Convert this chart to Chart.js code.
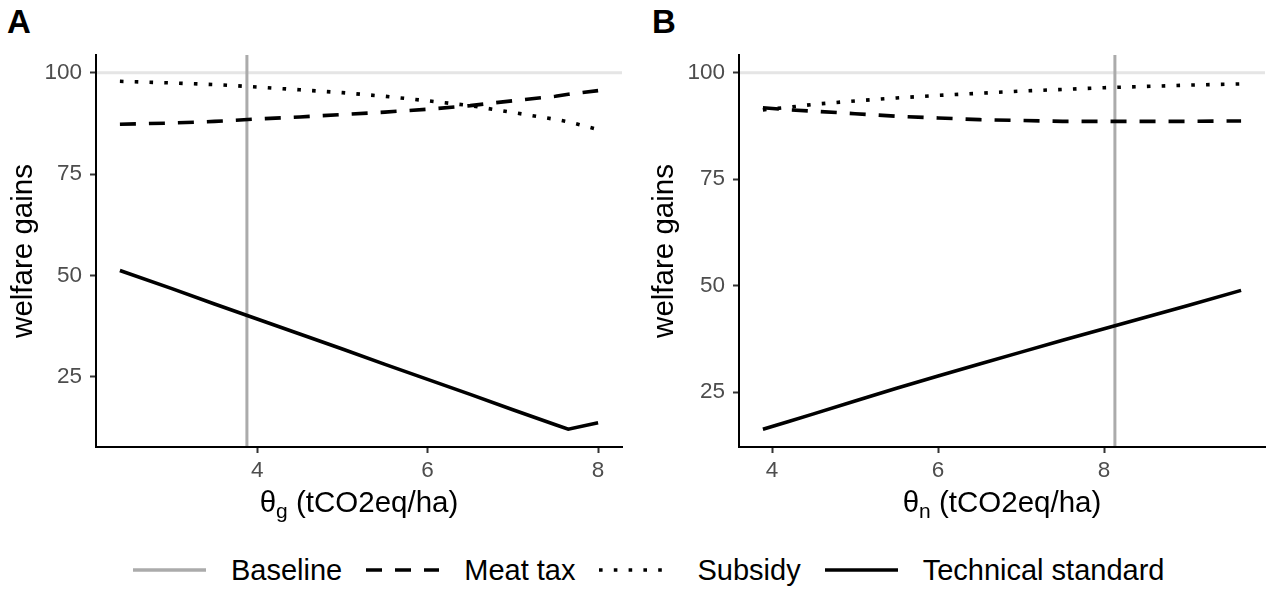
<!DOCTYPE html>
<html>
<head>
<meta charset="utf-8">
<script src="https://cdn.jsdelivr.net/npm/chart.js@4.4.1/dist/chart.umd.min.js"></script>
<style>
  html, body { margin: 0; padding: 0; background: #fff; }
  body { width: 1272px; height: 590px; position: relative; overflow: hidden;
         font-family: "Liberation Sans", Arial, sans-serif; }
  .panel { position: absolute; top: 0; }
  .tag { position: absolute; top: 5px; font-size: 33px; font-weight: bold; line-height: 1; color: #000; }
  #legend { position: absolute; left: 133px; top: 552px; height: 36px; display: flex;
            align-items: center; font-size: 29px; line-height: 1; color: #000; white-space: nowrap; }
  #legend svg { display: block; margin-right: 25px; }
  #legend span { margin-right: 24px; }
</style>
</head>
<body>
<div class="tag" style="left:7px">A</div>
<div class="tag" style="left:652px">B</div>
<canvas id="panelA" class="panel" width="636" height="532" style="left:0"></canvas>
<canvas id="panelB" class="panel" width="636" height="532" style="left:636px"></canvas>
<div id="legend"></div>

<script>
// panel A: theta_g
const xA = [2.39, 3.0, 3.5, 4.0, 4.5, 5.0, 5.5, 6.0, 6.5, 7.0, 7.5, 7.65, 8.0];
const meatTaxA = [87.3, 87.6, 88.0, 88.6, 89.1, 89.7, 90.3, 91.0, 91.9, 93.1, 94.2, 94.7, 95.6];
const subsidyA = [97.9, 97.5, 97.1, 96.5, 95.8, 95.1, 94.2, 93.1, 91.9, 90.2, 88.5, 87.9, 86.0];
const techA = [51.2, 46.7, 42.9, 39.2, 35.5, 31.8, 28.0, 24.3, 20.6, 16.8, 13.1, 12.0, 13.6];
const baselineA = 3.88;

// panel B: theta_n
const xB = [3.89, 4.2, 4.5, 5.0, 5.5, 6.0, 6.5, 7.0, 7.5, 8.0, 8.5, 9.0, 9.65];
const meatTaxB = [91.8, 91.3, 91.0, 90.4, 89.8, 89.4, 89.0, 88.8, 88.6, 88.6, 88.6, 88.6, 88.7];
const subsidyB = [91.3, 91.9, 92.6, 93.4, 94.1, 94.7, 95.2, 95.7, 96.1, 96.5, 96.8, 97.1, 97.4];
const techB = [16.3, 18.1, 19.9, 22.9, 25.9, 28.8, 31.6, 34.4, 37.2, 39.9, 42.6, 45.3, 48.9];
const baselineB = 8.13;

const refLevel = 100;
const xTicksA = [4, 6, 8];
const xTicksB = [4, 6, 8];
const yTicks = [25, 50, 75, 100];
const seriesLabels = ['Baseline', 'Meat tax', 'Subsidy', 'Technical standard'];

const FONT = '"Liberation Sans", Arial, sans-serif';
const LW = 3.6;
const DASH = [16, 13];
const DOT = [LW, 11.2];

// ggplot-like 5% expansion
function expand(values) {
  const lo = Math.min(...values), hi = Math.max(...values);
  const pad = (hi - lo) * 0.05;
  return { min: lo - pad, max: hi + pad };
}

function pts(xs, ys) {
  return xs.map((x, i) => ({ x: x, y: ys[i] }));
}

const refLinesPlugin = {
  id: 'refLines',
  beforeDatasetsDraw(chart, args, o) {
    const { ctx, chartArea: a, scales } = chart;
    ctx.save();
    ctx.lineWidth = 3;
    ctx.strokeStyle = '#E5E5E5';
    const y = scales.y.getPixelForValue(o.level);
    ctx.beginPath();
    ctx.moveTo(a.left + 1, y);
    ctx.lineTo(a.right, y);
    ctx.stroke();
    const x = scales.x.getPixelForValue(o.baseline);
    ctx.strokeStyle = '#ABABAB';
    ctx.beginPath();
    ctx.moveTo(x, a.top);
    ctx.lineTo(x, a.bottom - 1);
    ctx.stroke();
    ctx.restore();
  }
};

// x title with a subscript
const subTitlePlugin = {
  id: 'subTitle',
  afterDraw(chart, args, o) {
    const { ctx, chartArea } = chart;
    const cx = (chartArea.left + chartArea.right) / 2;
    const big = '29.5px ' + FONT, small = '21px ' + FONT;
    ctx.save();
    ctx.fillStyle = '#000';
    ctx.textBaseline = 'alphabetic';
    ctx.textAlign = 'left';
    ctx.font = big;
    const w1 = ctx.measureText(o.symbol).width;
    const w3 = ctx.measureText(o.rest).width;
    ctx.font = small;
    const w2 = ctx.measureText(o.sub).width;
    let x = cx - (w1 + w2 + w3) / 2;
    ctx.font = big; ctx.fillText(o.symbol, x, o.baseline); x += w1;
    ctx.font = small; ctx.fillText(o.sub, x, o.baseline + 6); x += w2;
    ctx.font = big; ctx.fillText(o.rest, x, o.baseline);
    ctx.restore();
  }
};

function makePanel(id, p) {
  const xr = expand(p.xs);
  const yr = expand(p.meat.concat(p.sub, p.tech, [refLevel]));
  return new Chart(document.getElementById(id), {
    type: 'line',
    data: {
      datasets: [
        { label: seriesLabels[1], data: pts(p.xs, p.meat), borderColor: '#000', borderWidth: LW, borderDash: DASH, pointRadius: 0, tension: 0 },
        { label: seriesLabels[2], data: pts(p.xs, p.sub), borderColor: '#000', borderWidth: LW, borderDash: DOT, pointRadius: 0, tension: 0 },
        { label: seriesLabels[3], data: pts(p.xs, p.tech), borderColor: '#000', borderWidth: LW, pointRadius: 0, tension: 0 }
      ]
    },
    options: {
      responsive: false,
      animation: false,
      events: [],
      layout: { padding: { top: 55, right: p.padRight, left: 0, bottom: 0 } },
      plugins: {
        legend: { display: false },
        tooltip: { enabled: false },
        refLines: { level: refLevel, baseline: p.baseline },
        subTitle: { symbol: 'θ', sub: p.subscript, rest: ' (tCO2eq/ha)', baseline: 512 }
      },
      scales: {
        x: {
          type: 'linear',
          min: xr.min,
          max: xr.max,
          afterFit: (s) => { s.height = 85; },
          afterBuildTicks: (s) => { s.ticks = p.xTicks.map((v) => ({ value: v })); },
          grid: { drawOnChartArea: false, drawTicks: true, tickLength: 6, tickColor: '#333', tickWidth: 2 },
          border: { display: true, color: '#000', width: 2 },
          ticks: { color: '#4D4D4D', font: { size: 22.5, family: FONT }, padding: 4, maxRotation: 0, autoSkip: false }
        },
        y: {
          type: 'linear',
          min: yr.min,
          max: yr.max,
          afterFit: (s) => { s.width = p.yWidth; },
          afterBuildTicks: (s) => { s.ticks = yTicks.map((v) => ({ value: v })); },
          grid: { drawOnChartArea: false, drawTicks: true, tickLength: 6, tickColor: '#333', tickWidth: 2 },
          border: { display: true, color: '#000', width: 2 },
          ticks: { color: '#4D4D4D', font: { size: 22.5, family: FONT }, padding: 8 },
          title: { display: true, text: 'welfare gains', color: '#000', font: { size: 29.5, family: FONT }, padding: { top: p.titlePad, bottom: 0 } }
        }
      }
    },
    plugins: [refLinesPlugin, subTitlePlugin]
  });
}

makePanel('panelA', {
  xs: xA, meat: meatTaxA, sub: subsidyA, tech: techA, baseline: baselineA,
  xTicks: xTicksA, subscript: 'g', yWidth: 96, padRight: 14, titlePad: 6
});
makePanel('panelB', {
  xs: xB, meat: meatTaxB, sub: subsidyB, tech: techB, baseline: baselineB,
  xTicks: xTicksB, subscript: 'n', yWidth: 103, padRight: 7, titlePad: 11
});

// shared legend
const legendKeys = [
  { color: '#ABABAB', dash: null },
  { color: '#000', dash: DASH },
  { color: '#000', dash: DOT },
  { color: '#000', dash: null }
];
const legend = document.getElementById('legend');
seriesLabels.forEach((name, i) => {
  const k = legendKeys[i];
  const svg = document.createElementNS('http://www.w3.org/2000/svg', 'svg');
  svg.setAttribute('width', '73');
  svg.setAttribute('height', '12');
  const line = document.createElementNS('http://www.w3.org/2000/svg', 'line');
  line.setAttribute('x1', '0'); line.setAttribute('x2', '73');
  line.setAttribute('y1', '6'); line.setAttribute('y2', '6');
  line.setAttribute('stroke', k.color);
  line.setAttribute('stroke-width', String(LW));
  if (k.dash) line.setAttribute('stroke-dasharray', k.dash.join(' '));
  svg.appendChild(line);
  const label = document.createElement('span');
  label.textContent = name;
  legend.appendChild(svg);
  legend.appendChild(label);
});
</script>
</body>
</html>
